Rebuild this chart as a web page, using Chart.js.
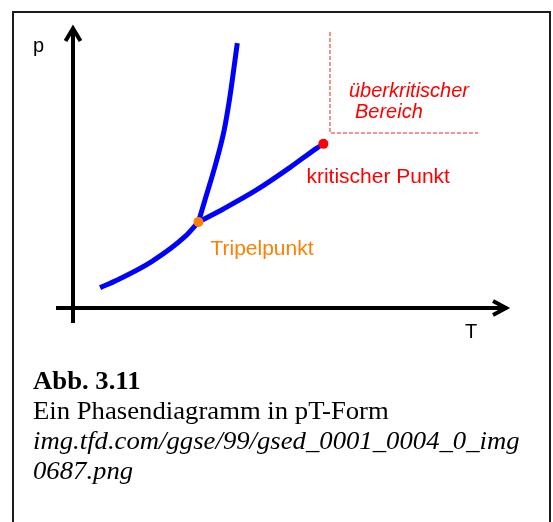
<!DOCTYPE html>
<html>
<head>
<meta charset="utf-8">
<script src="https://cdn.jsdelivr.net/npm/chart.js@4/dist/chart.umd.min.js"></script>
<style>
    html, body { margin: 0; padding: 0; background: #fff; overflow: hidden; }
    body { width: 553px; height: 522px; position: relative; }
    #frame {
        position: absolute; left: 12px; top: 11px;
        width: 539px; height: 600px;
        border: 2px solid #1c1c1c; box-sizing: border-box;
    }
    #chart { position: absolute; left: 0; top: 0; }
    #caption {
        position: absolute; left: 33px; top: 366px;
        font-family: "Liberation Serif", "Times New Roman", serif;
        font-size: 24.5px; line-height: 30px; color: #000;
        transform: scaleX(1.09); transform-origin: left top;
        white-space: nowrap;
    }
    #caption b { font-weight: bold; }
    #caption i { font-style: italic; }
</style>
</head>
<body>
<div id="frame"></div>
<canvas id="chart" width="553" height="522"></canvas>
<div id="caption">
    <b>Abb. 3.11</b><br>
    Ein Phasendiagramm in pT-Form<br>
    <i>img.tfd.com/ggse/99/gsed_0001_0004_0_img</i><br>
    <i>0687.png</i>
</div>
<script>
// Curve values (T, p), arbitrary units 0..10
const sublimT = [0.62, 1.04, 1.80, 2.56, 2.87];
const sublimP = [0.72, 1.01, 1.64, 2.52, 3.04];

const meltT = [2.87, 3.04, 3.27, 3.46, 3.59, 3.76];
const meltP = [3.04, 3.92, 5.12, 6.29, 7.46, 9.36];

const vapT = [2.87, 3.44, 4.20, 4.97, 5.58, 5.73];
const vapP = [3.04, 3.50, 4.17, 4.97, 5.65, 5.80];

const tripleT = [2.87];
const tripleP = [3.04];
const criticalT = [5.73];
const criticalP = [5.80];

// border of the supercritical region
const superT = [5.88, 5.88, 9.27];
const superP = [9.75, 6.18, 6.18];

const axisMax = 10;

function toPoints(xs, ys) {
    return xs.map((t, i) => ({ x: t, y: ys[i] }));
}

// Draw arrow axes and the text labels
const phasePlugin = {
    id: 'phasePlugin',
    afterDraw(chart) {
        const ctx = chart.ctx;
        const xs = chart.scales.x;
        const ys = chart.scales.y;
        const x0 = xs.getPixelForValue(0);
        const y0 = ys.getPixelForValue(0);
        const xEnd = xs.getPixelForValue(axisMax);
        const yEnd = ys.getPixelForValue(axisMax);

        ctx.save();
        ctx.strokeStyle = '#000';
        ctx.lineWidth = 4;
        ctx.lineCap = 'butt';
        ctx.lineJoin = 'miter';

        // y axis
        ctx.beginPath();
        ctx.moveTo(x0, y0 + 15);
        ctx.lineTo(x0, yEnd + 3);
        ctx.stroke();
        ctx.beginPath();
        ctx.moveTo(x0 - 7.5, yEnd + 16);
        ctx.lineTo(x0, yEnd + 3.5);
        ctx.lineTo(x0 + 7.5, yEnd + 16);
        ctx.stroke();

        // x axis
        ctx.beginPath();
        ctx.moveTo(x0 - 17, y0);
        ctx.lineTo(xEnd - 3, y0);
        ctx.stroke();
        ctx.beginPath();
        ctx.moveTo(xEnd - 17, y0 - 7);
        ctx.lineTo(xEnd - 4, y0);
        ctx.lineTo(xEnd - 17, y0 + 7);
        ctx.stroke();

        // labels
        ctx.textBaseline = 'alphabetic';
        ctx.textAlign = 'left';
        ctx.font = '20px "Liberation Sans", Arial, sans-serif';
        ctx.fillStyle = '#000';
        ctx.fillText('p', x0 - 40, yEnd + 27);
        ctx.fillText('T', xEnd - 45, y0 + 30);

        ctx.font = '21px "Liberation Sans", Arial, sans-serif';
        ctx.fillStyle = '#ff0000';
        ctx.fillText('kritischer Punkt', xs.getPixelForValue(criticalT[0]) - 17, ys.getPixelForValue(criticalP[0]) + 39);
        ctx.font = 'italic 20px "Liberation Sans", Arial, sans-serif';
        ctx.fillText('überkritischer', xs.getPixelForValue(superT[0]) + 19, ys.getPixelForValue(superP[1]) - 36);
        ctx.fillText('Bereich', xs.getPixelForValue(superT[0]) + 25, ys.getPixelForValue(superP[1]) - 15);

        ctx.font = '21px "Liberation Sans", Arial, sans-serif';
        ctx.fillStyle = '#ff8000';
        ctx.fillText('Tripelpunkt', xs.getPixelForValue(tripleT[0]) + 12, ys.getPixelForValue(tripleP[0]) + 33);
        ctx.restore();
    }
};

const blueLine = {
    showLine: true,
    borderColor: '#0000ff',
    borderWidth: 5,
    pointRadius: 0,
    cubicInterpolationMode: 'monotone',
    fill: false
};

new Chart(document.getElementById('chart'), {
    type: 'scatter',
    data: {
        datasets: [
            {
                data: toPoints(tripleT, tripleP),
                pointRadius: 5,
                pointBackgroundColor: '#ff8000',
                pointBorderWidth: 0,
                order: 0
            },
            {
                data: toPoints(criticalT, criticalP),
                pointRadius: 5,
                pointBackgroundColor: '#ff0000',
                pointBorderWidth: 0,
                order: 1
            },
            Object.assign({ data: toPoints(sublimT, sublimP), order: 2 }, blueLine),
            Object.assign({ data: toPoints(meltT, meltP), order: 3 }, blueLine),
            Object.assign({ data: toPoints(vapT, vapP), order: 4 }, blueLine),
            {
                data: toPoints(superT, superP),
                showLine: true,
                borderColor: '#f07070',
                borderWidth: 1.5,
                borderDash: [4, 2],
                pointRadius: 0,
                tension: 0,
                order: 5
            }
        ]
    },
    options: {
        responsive: false,
        animation: false,
        layout: { padding: { left: 73, right: 43, top: 25, bottom: 214 } },
        scales: {
            x: { type: 'linear', min: 0, max: axisMax, display: false },
            y: { type: 'linear', min: 0, max: axisMax, display: false }
        },
        plugins: {
            legend: { display: false },
            tooltip: { enabled: false }
        },
        clip: false
    },
    plugins: [phasePlugin]
});
</script>
</body>
</html>
